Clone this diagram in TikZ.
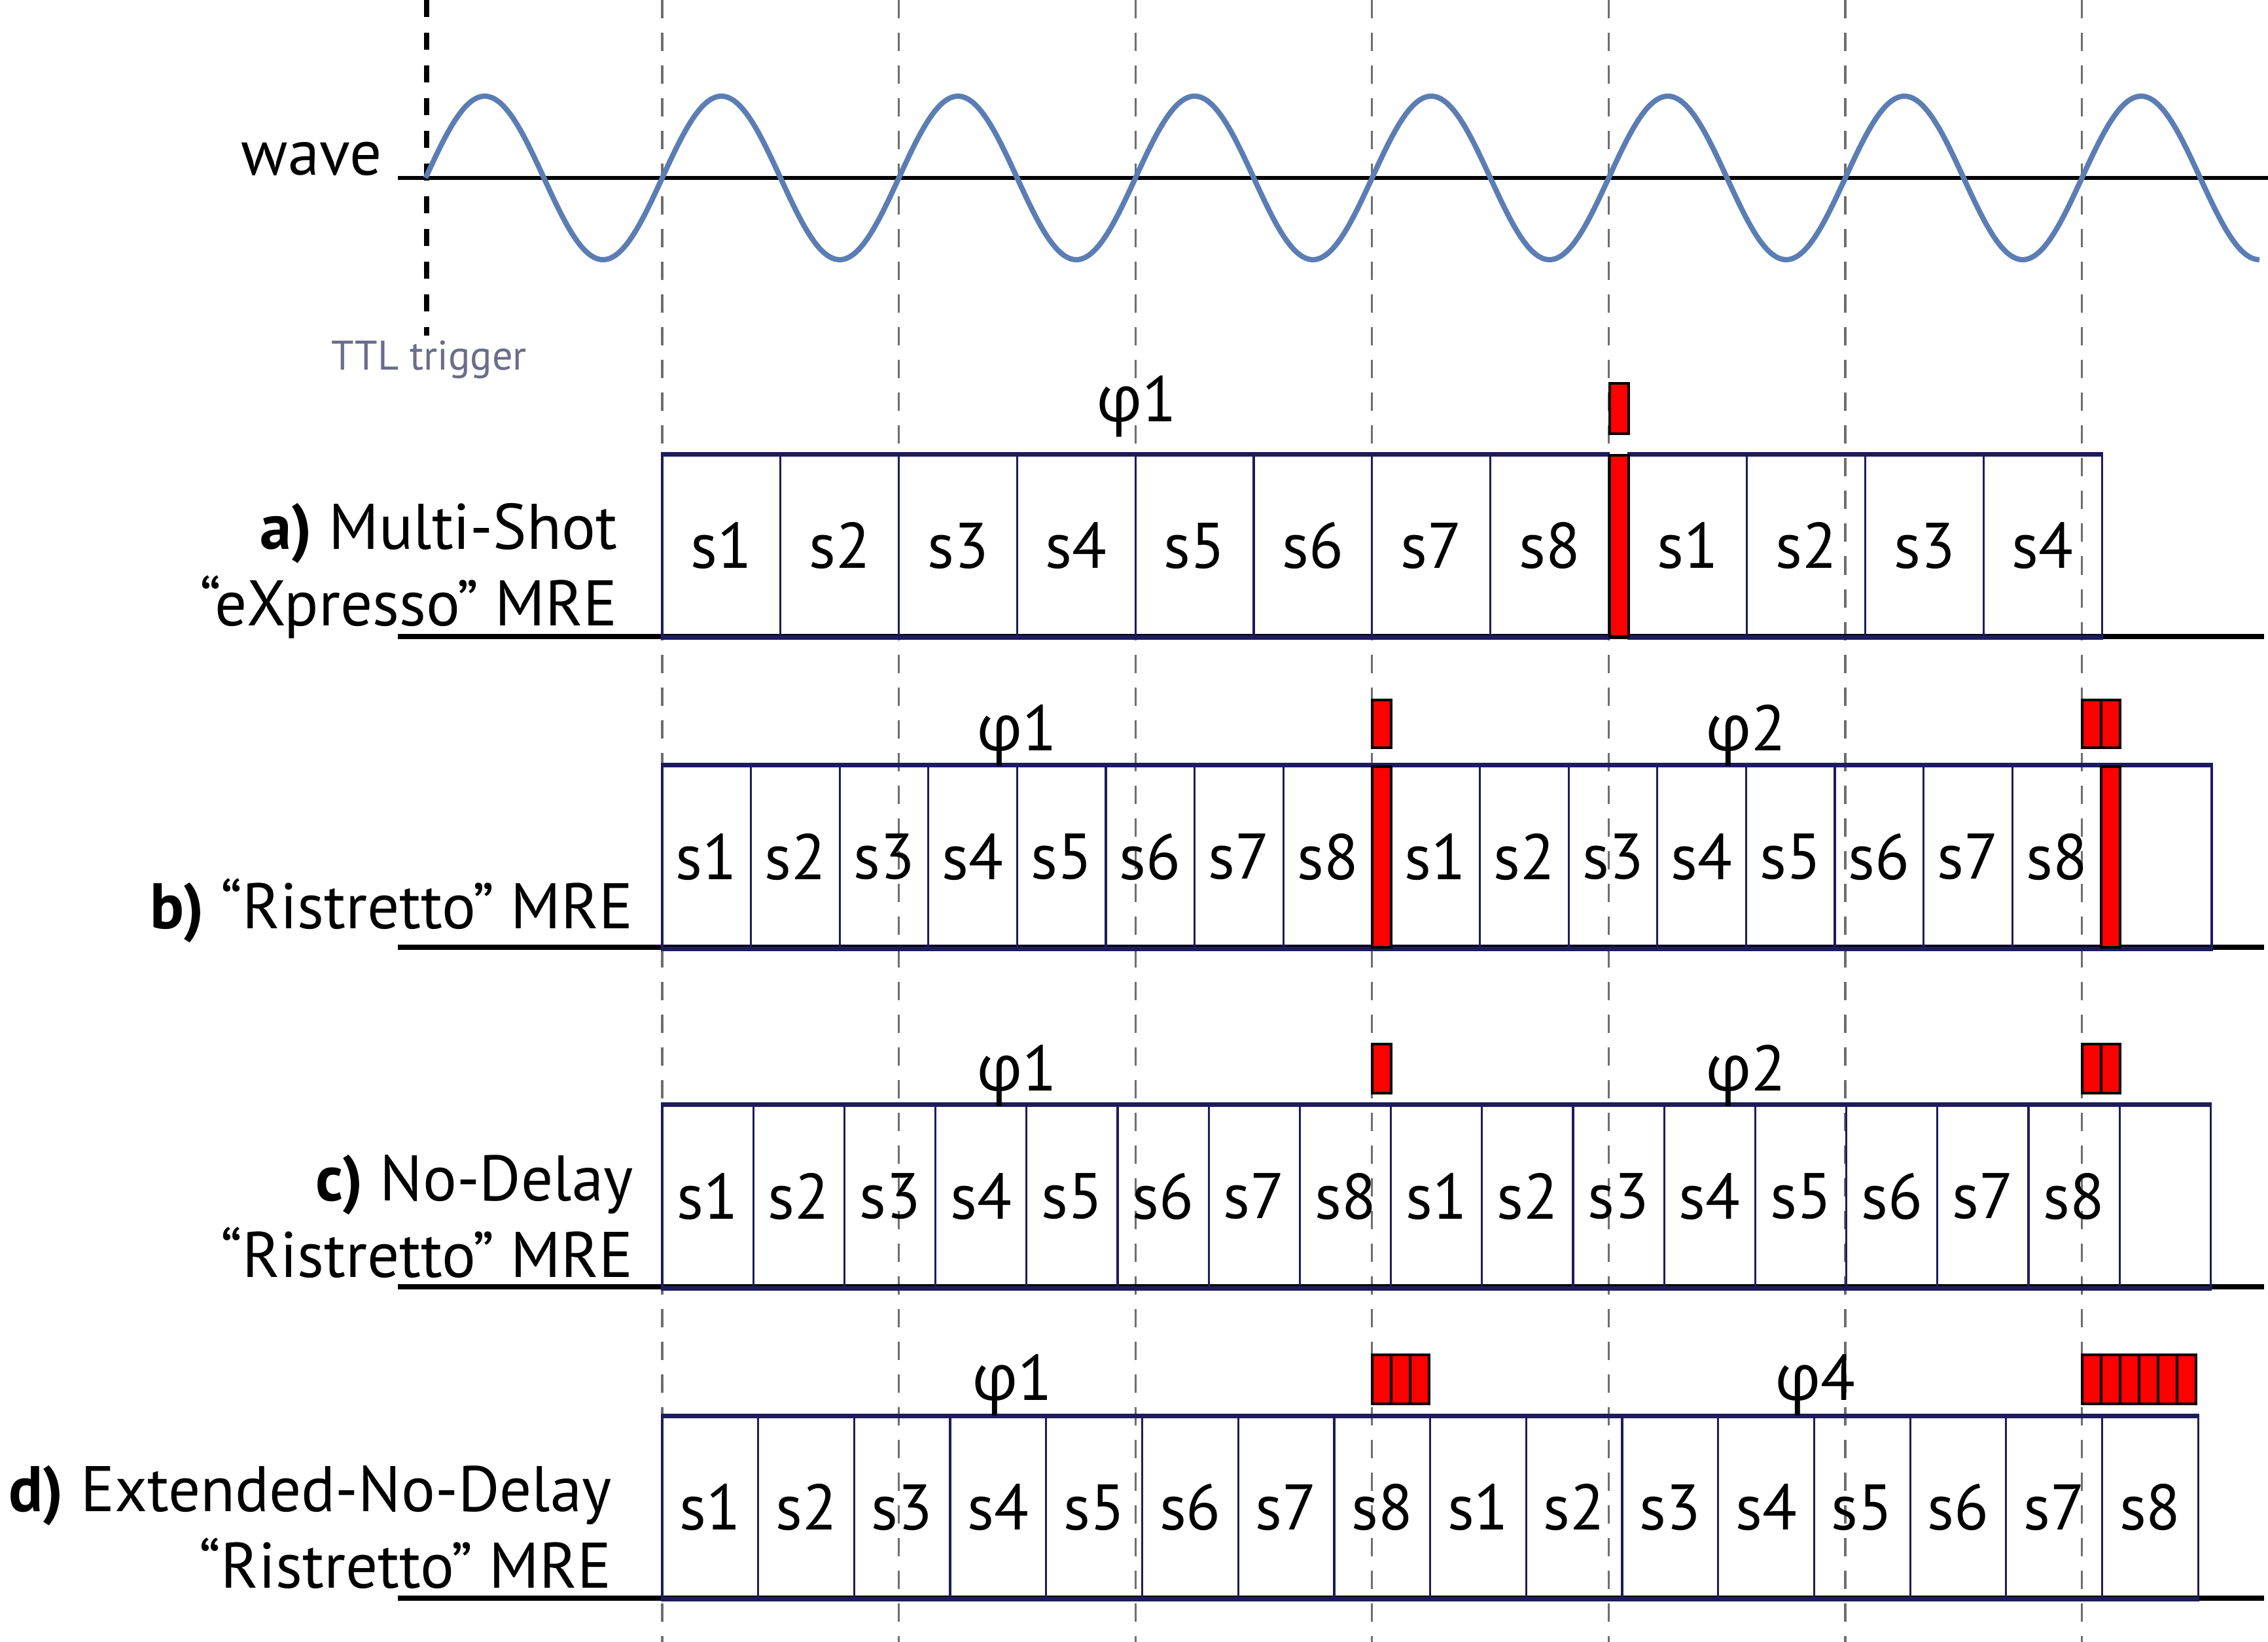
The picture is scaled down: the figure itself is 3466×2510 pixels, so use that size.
\documentclass[tikz,border=0pt]{standalone}
\usepackage{fontspec}
\setmainfont[FakeStretch=0.985]{PT Sans}
\newfontfamily\grk{Open Sans}
\definecolor{navy}{RGB}{30,27,94}
\definecolor{waveblue}{RGB}{91,125,180}
\definecolor{gridgray}{RGB}{110,110,110}
\definecolor{ttlcol}{RGB}{108,108,140}
\tikzset{
  slot/.style={draw=navy, line width=0.9pt, inner sep=0pt, minimum height=2.77cm, anchor=center, font=\fontsize{28}{33}\selectfont},
  edge/.style={draw=navy, line width=2pt},
  base/.style={draw=black, line width=2pt},
  redbar/.style={fill=red, draw=black, line width=1.2pt},
  grid/.style={draw=gridgray, line width=0.9pt, dash pattern=on 0.28cm off 0.22cm},
  trig/.style={draw=black, line width=2.2pt, dash pattern=on 0.26cm off 0.24cm},
  lbl/.style={font=\fontsize{28}{33}\selectfont, inner sep=0pt, anchor=base east},
  phl/.style={font=\fontsize{28}{33}\selectfont, inner sep=0pt, anchor=base},
}
\begin{document}
\begin{tikzpicture}[x=0.01cm, y=-0.01cm]
\useasboundingbox (0,0) rectangle (3466,2510);
% grid lines
\foreach \k in {0,...,6} {
  \coordinate (gt\k) at ({1012+361.6*\k}, 0);
  \coordinate (gb\k) at ({1012+361.6*\k}, 2510);
  \draw[grid] (gt\k) -- (gb\k);
}
% trigger
\coordinate (tt) at (652,0);
\coordinate (tb) at (652,513);
\draw[trig] (tt) -- (tb);
% axis and wave
\coordinate (ax0) at (608,272);
\coordinate (ax1) at (3466,272);
\draw[base, line width=1.7pt] (ax0) -- (ax1);
\draw[waveblue, line width=2.3pt, line join=round] plot[domain=650.4:3452.8, samples=400, smooth] (\x, {272-125*sin(0.995575*(\x-1012))});
\node[font=\fontsize{28}{33}\selectfont, inner sep=0pt, anchor=base east] (wave) at (584,268) {wave};
\node[font=\fontsize{18}{22}\selectfont, text=ttlcol, inner sep=0pt, anchor=base west] (ttl) at (506,566) {TTL trigger};

% ---------- row a ----------
\coordinate (aL) at (608,973); \coordinate (aR) at (3460,973);
\draw[base] (aL) -- (aR);
\foreach \i in {1,...,8} \node[slot, minimum width=1.808cm] (a\i) at ({1012+(\i-0.5)*180.8}, 834.5) {s\i};
\foreach \i in {1,...,4} \node[slot, minimum width=1.808cm] (aa\i) at ({2489+(\i-0.5)*180.8}, 834.5) {s\i};
\draw[edge] (a1.north west) -- (a8.north east) (aa1.north west) -- (aa4.north east);
\draw[edge] (a1.south west) -- (a8.south east) (aa1.south west) -- (aa4.south east);
\draw[redbar] (2460,696) rectangle (2489,973);
\draw[redbar] (2460,586) rectangle (2489,663);
\node[phl] (pa1) at (1737,645) {{\grk φ}1};
\node[lbl] (la1) at (944,840) {\textbf{a)} Multi-Shot};
\node[lbl] (la2) at (944,957) {“eXpresso” MRE};

% ---------- row b ----------
\coordinate (bL) at (608,1448); \coordinate (bR) at (3460,1448);
\draw[base] (bL) -- (bR);
\foreach \i in {1,...,8} \node[slot, minimum width=1.356cm] (b\i) at ({1012+(\i-0.5)*135.6}, 1310) {s\i};
\foreach \i in {1,...,8} \node[slot, minimum width=1.356cm] (bb\i) at ({2126+(\i-0.5)*135.6}, 1310) {s\i};
\node[slot, minimum width=1.40cm] (b9) at (3310,1310) {};
\draw[edge] (b1.north west) -- (b9.north east);
\draw[edge] (b1.south west) -- (b9.south east);
\draw[redbar] (2097,1172) rectangle (2126,1448);
\draw[redbar] (3211,1172) rectangle (3240,1448);
\draw[redbar] (2097,1070) rectangle (2126,1143);
\draw[redbar] (3182,1070) rectangle (3211,1143);
\draw[redbar] (3211,1070) rectangle (3240,1143);
\node[phl] (pb1) at (1554,1147) {{\grk φ}1};
\node[phl] (pb2) at (2668,1147) {{\grk φ}2};
\node[lbl] (lb1) at (968,1419) {\textbf{b)} “Ristretto” MRE};

% ---------- row c ----------
\coordinate (cL) at (608,1967); \coordinate (cR) at (3460,1967);
\draw[base] (cL) -- (cR);
\foreach \i in {1,...,8} \node[slot, minimum width=1.392cm] (c\i) at ({1012+(\i-0.5)*139.2}, 1829) {s\i};
\foreach \i in {1,...,8} \node[slot, minimum width=1.392cm] (cc\i) at ({2125.6+(\i-0.5)*139.2}, 1829) {s\i};
\node[slot, minimum width=1.392cm] (c9) at (3308.8,1829) {};
\draw[edge] (c1.north west) -- (c9.north east);
\draw[edge] (c1.south west) -- (c9.south east);
\draw[redbar] (2097,1596) rectangle (2126,1671);
\draw[redbar] (3182,1596) rectangle (3211,1671);
\draw[redbar] (3211,1596) rectangle (3240,1671);
\node[phl] (pc1) at (1554,1667) {{\grk φ}1};
\node[phl] (pc2) at (2668,1667) {{\grk φ}2};
\node[lbl] (lc1) at (968,1835) {\textbf{c)} No-Delay};
\node[lbl] (lc2) at (968,1952) {“Ristretto” MRE};

% ---------- row d ----------
\coordinate (dL) at (608,2443); \coordinate (dR) at (3460,2443);
\draw[base] (dL) -- (dR);
\foreach \i in {1,...,8} \node[slot, minimum width=1.467cm] (d\i) at ({1012+(\i-0.5)*146.7}, 2304.5) {s\i};
\foreach \i in {1,...,8} \node[slot, minimum width=1.467cm] (dd\i) at ({2185.6+(\i-0.5)*146.7}, 2304.5) {s\i};
\draw[edge] (d1.north west) -- (dd8.north east);
\draw[edge] (d1.south west) -- (dd8.south east);
\foreach \j in {0,1,2} \draw[redbar] ({2097+29*\j},2071) rectangle ({2126+29*\j},2146);
\foreach \j in {0,...,5} \draw[redbar] ({3182+29*\j},2071) rectangle ({3211+29*\j},2146);
\node[phl] (pd1) at (1547,2140) {{\grk φ}1};
\node[phl] (pd4) at (2774,2140) {{\grk φ}4};
\node[lbl] (ld1) at (935,2310) {\textbf{d)} Extended-No-Delay};
\node[lbl] (ld2) at (935,2427) {“Ristretto” MRE};
\end{tikzpicture}
\end{document}
